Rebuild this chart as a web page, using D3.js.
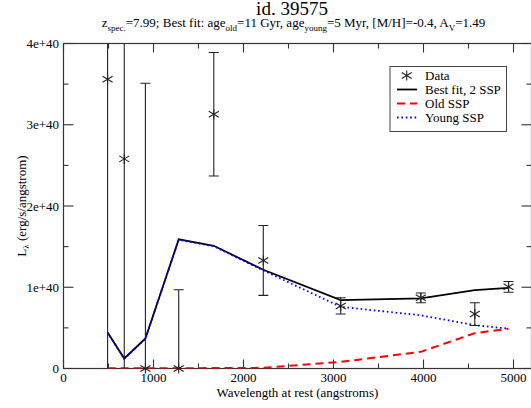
<!DOCTYPE html>
<html>
<head>
<meta charset="utf-8">
<script src="https://cdn.jsdelivr.net/npm/d3@7"></script>
<style>
  body { margin: 0; background: #fff; }
  svg { display: block; }
  text { font-family: "Liberation Serif", "Times New Roman", serif; fill: #000; }
</style>
</head>
<body>
<svg id="chart" width="531" height="408"></svg>
<script>
// Rest-frame wavelengths (angstroms) of the photometric points / model samples
const wavelength = [490, 675, 910, 1280, 1670, 2220, 3080, 3970, 4570, 4945];
// Luminosities in units of 1e40 erg/s/angstrom
const dataLum  = [3.56, 2.58, 0.0, 0.0, 3.13, 1.33, 0.77, 0.87, 0.67, 1.005];
const dataErr  = [3.8, 2.9, 3.51, 0.97, 0.76, 0.43, 0.10, 0.06, 0.14, 0.066];
const bestFit  = [0.443, 0.123, 0.369, 1.589, 1.51, 1.215, 0.841, 0.862, 0.964, 0.993];
const oldSSP   = [0.003, 0.003, 0.003, 0.004, 0.005, 0.008, 0.081, 0.205, 0.435, 0.49];
const youngSSP = [0.44, 0.12, 0.366, 1.585, 1.505, 1.207, 0.759, 0.655, 0.533, 0.49];
// Axis ticks
const xMajorTicks = [0, 1000, 2000, 3000, 4000, 5000];
const xMinorTicks = [500, 1500, 2500, 3500, 4500];
const yMajorTicks = [0, 1, 2, 3, 4];
const yMinorTicks = [0.5, 1.5, 2.5, 3.5];
const yTickLabels = ["0", "1e+40", "2e+40", "3e+40", "4e+40"];
const legendItems = ["Data", "Best fit, 2 SSP", "Old SSP", "Young SSP"];

const svg = d3.select("#chart");
const plotLeft = 63.5, plotRight = 531.5, plotTop = 43.5, plotBottom = 368.5;

const x = d3.scaleLinear().domain([0, 5200]).range([plotLeft, plotRight]);
const y = d3.scaleLinear().domain([0, 4]).range([plotBottom, plotTop]);

svg.append("defs").append("clipPath").attr("id", "plotclip")
  .append("rect").attr("x", plotLeft).attr("y", plotTop)
  .attr("width", plotRight - plotLeft).attr("height", plotBottom - plotTop);

// Frame
svg.append("rect").attr("x", plotLeft).attr("y", plotTop)
  .attr("width", plotRight - plotLeft).attr("height", plotBottom - plotTop)
  .attr("fill", "none").attr("stroke", "#333").attr("stroke-width", 1.2);

// Inward ticks on all four sides
const tg = svg.append("g").attr("stroke", "#333").attr("stroke-width", 1.1);
function xt(vals, len) {
  vals.forEach(v => {
    tg.append("line").attr("x1", x(v)).attr("x2", x(v)).attr("y1", plotBottom).attr("y2", plotBottom - len);
    tg.append("line").attr("x1", x(v)).attr("x2", x(v)).attr("y1", plotTop).attr("y2", plotTop + len);
  });
}
function yt(vals, len) {
  vals.forEach(v => {
    tg.append("line").attr("y1", y(v)).attr("y2", y(v)).attr("x1", plotLeft).attr("x2", plotLeft + len);
    tg.append("line").attr("y1", y(v)).attr("y2", y(v)).attr("x1", plotRight).attr("x2", plotRight - len);
  });
}
xt(xMajorTicks, 9); xt(xMinorTicks, 5);
yt(yMajorTicks, 10); yt(yMinorTicks, 5);

// Tick labels
svg.append("g").selectAll("text").data(xMajorTicks).join("text")
  .attr("x", d => x(d)).attr("y", 382.3)
  .attr("text-anchor", "middle").attr("font-size", 13)
  .text(d => d);
svg.append("g").selectAll("text").data(yMajorTicks).join("text")
  .attr("x", 59).attr("y", d => y(d) + 4.5)
  .attr("text-anchor", "end").attr("font-size", 13)
  .text((d, i) => yTickLabels[i]);

// Axis titles
svg.append("text").attr("x", (plotLeft + plotRight) / 2).attr("y", 397.3)
  .attr("text-anchor", "middle").attr("font-size", 13)
  .text("Wavelength at rest (angstroms)");

const yl = svg.append("text")
  .attr("transform", `translate(25.5,${(plotTop + plotBottom) / 2}) rotate(-90)`)
  .attr("text-anchor", "middle").attr("font-size", 13);
yl.append("tspan").text("L");
yl.append("tspan").attr("dy", 3).attr("font-size", 9).text("λ");
yl.append("tspan").attr("dy", -3).text(" (erg/s/angstrom)");

// Title and subtitle
svg.append("text").attr("x", 292).attr("y", 14.5)
  .attr("text-anchor", "middle").attr("font-size", 19).text("id. 39575");

const sub = svg.append("text").attr("x", 293.5).attr("y", 27)
  .attr("text-anchor", "middle").attr("font-size", 13);
const parts = [
  ["z", 0], ["spec.", 1], ["=7.99; Best fit: age", 0], ["old", 1],
  ["=11 Gyr, age", 0], ["young", 1], ["=5 Myr, [M/H]=-0.4, A", 0], ["V", 1], ["=1.49", 0]
];
let prevSub = 0;
parts.forEach(([t, s]) => {
  const shift = (s - prevSub) * 4;
  sub.append("tspan").attr("dy", shift).attr("font-size", s ? 9 : 13).text(t);
  prevSub = s;
});

// Plot contents
const plot = svg.append("g").attr("clip-path", "url(#plotclip)");
const idx = d3.range(wavelength.length);

const line = arr => d3.line().x(i => x(wavelength[i])).y(i => y(arr[i]))(idx);

plot.append("path").attr("d", line(bestFit))
  .attr("fill", "none").attr("stroke", "#000").attr("stroke-width", 1.8);
plot.append("path").attr("d", line(oldSSP))
  .attr("fill", "none").attr("stroke", "#f00").attr("stroke-width", 2)
  .attr("stroke-dasharray", "8,5");
plot.append("path").attr("d", line(youngSSP))
  .attr("fill", "none").attr("stroke", "#00f").attr("stroke-width", 1.8)
  .attr("stroke-dasharray", "1.6,2.8");

// Error bars
const eb = plot.append("g").attr("stroke", "#222").attr("stroke-width", 1.1);
idx.forEach(i => {
  const cx = x(wavelength[i]);
  const hi = y(dataLum[i] + dataErr[i]), lo = y(dataLum[i] - dataErr[i]);
  eb.append("line").attr("x1", cx).attr("x2", cx).attr("y1", hi).attr("y2", lo);
  eb.append("line").attr("x1", cx - 5).attr("x2", cx + 5).attr("y1", hi).attr("y2", hi);
  eb.append("line").attr("x1", cx - 5).attr("x2", cx + 5).attr("y1", lo).attr("y2", lo);
});

// Star symbols
function star(g, cx, cy) {
  const s = g.append("g").attr("transform", `translate(${cx},${cy})`)
    .attr("stroke", "#222").attr("stroke-width", 1.1);
  s.append("line").attr("x1", 0).attr("x2", 0).attr("y1", -5).attr("y2", 5);
  s.append("line").attr("x1", -5).attr("x2", 5).attr("y1", -3).attr("y2", 3);
  s.append("line").attr("x1", -5).attr("x2", 5).attr("y1", 3).attr("y2", -3);
}
const marks = svg.append("g");
idx.forEach(i => star(marks, x(wavelength[i]), y(dataLum[i])));

// Legend
const lg = svg.append("g");
lg.append("rect").attr("x", 390).attr("y", 66.5).attr("width", 116.5).attr("height", 65)
  .attr("fill", "#fff").attr("stroke", "#444").attr("stroke-width", 1);
const rowY = i => 75.5 + i * 14;
star(lg, 406.7, rowY(0));
lg.append("line").attr("x1", 397).attr("x2", 417).attr("y1", rowY(1)).attr("y2", rowY(1))
  .attr("stroke", "#000").attr("stroke-width", 1.8);
lg.append("line").attr("x1", 397).attr("x2", 417).attr("y1", rowY(2)).attr("y2", rowY(2))
  .attr("stroke", "#f00").attr("stroke-width", 2).attr("stroke-dasharray", "8,5");
lg.append("line").attr("x1", 397).attr("x2", 417).attr("y1", rowY(3)).attr("y2", rowY(3))
  .attr("stroke", "#00f").attr("stroke-width", 1.8).attr("stroke-dasharray", "1.6,2.8");
lg.selectAll("text.item").data(legendItems).join("text")
  .attr("x", 425).attr("y", (d, i) => rowY(i) + 4.5)
  .attr("font-size", 13).text(d => d);
</script>
</body>
</html>
